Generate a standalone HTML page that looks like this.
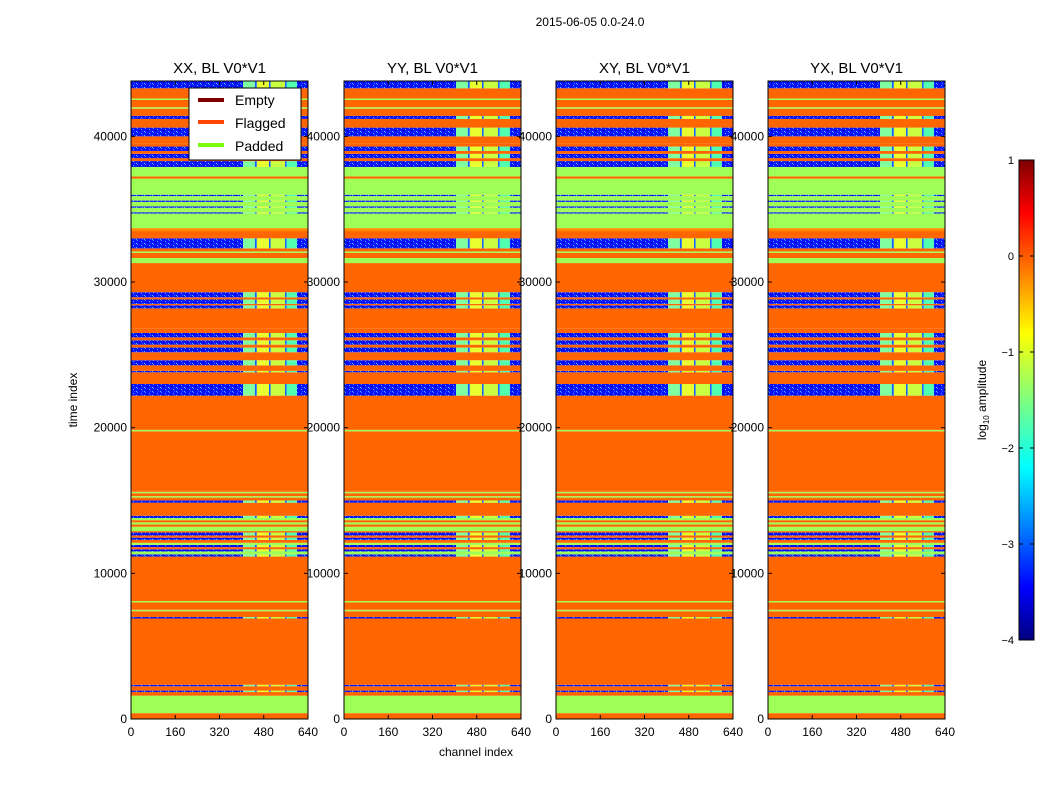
<!DOCTYPE html>
<html><head><meta charset="utf-8">
<style>
body{margin:0;background:#fff;font-family:"Liberation Sans",sans-serif;}
svg text{font-family:"Liberation Sans",sans-serif;}
</style></head>
<body>
<svg id="chart" width="1050" height="800" xmlns="http://www.w3.org/2000/svg">
<defs>
<pattern id="noise" width="8" height="4" patternUnits="userSpaceOnUse">
<rect width="8" height="4" fill="#0a10ff"/>
<rect x="1" y="0" width="1" height="1" fill="#20a0ff"/>
<rect x="5" y="1" width="1" height="1" fill="#30c0ff"/>
<rect x="3" y="2" width="1" height="1" fill="#0000b0"/>
<rect x="6" y="3" width="1" height="1" fill="#1070ff"/>
<rect x="0" y="3" width="1" height="1" fill="#40d0f0"/>
</pattern>
<linearGradient id="jet" x1="0" y1="1" x2="0" y2="0">
<stop offset="0" stop-color="#00007f"/><stop offset="0.11" stop-color="#0000ff"/>
<stop offset="0.36" stop-color="#00ffff"/><stop offset="0.5" stop-color="#7fff7f"/>
<stop offset="0.64" stop-color="#ffff00"/><stop offset="0.89" stop-color="#ff0000"/>
<stop offset="1" stop-color="#7f0000"/>
</linearGradient>
</defs>
<text x="590" y="26" font-size="12" text-anchor="middle">2015-06-05 0.0-24.0</text>
<g id="panels"></g>
<text x="476" y="756" font-size="12" text-anchor="middle">channel index</text>
<text x="77" y="400" font-size="12" text-anchor="middle" transform="rotate(-90 77 400)">time index</text>
<g>
<rect x="189" y="88" width="112" height="72" fill="#fff" stroke="#000" stroke-width="1"/>
<line x1="198" y1="100" x2="224" y2="100" stroke="#800000" stroke-width="4"/>
<text x="235" y="105" font-size="14">Empty</text>
<line x1="198" y1="122" x2="224" y2="122" stroke="#ff4500" stroke-width="4"/>
<text x="235" y="128" font-size="14">Flagged</text>
<line x1="198" y1="145" x2="224" y2="145" stroke="#7cfc00" stroke-width="4"/>
<text x="235" y="151" font-size="14">Padded</text>
</g>
<g>
<rect x="1019" y="160" width="15" height="480" fill="url(#jet)" stroke="#000" stroke-width="1"/>
<g id="cbticks"></g>
<text x="986" y="400" font-size="12" text-anchor="middle" transform="rotate(-90 986 400)">log<tspan font-size="8" dy="3">10</tspan><tspan dy="-3"> amplitude</tspan></text>
</g>
</svg>
<script>
const NS="http://www.w3.org/2000/svg";
const panelTitles=["XX, BL V0*V1","YY, BL V0*V1","XY, BL V0*V1","YX, BL V0*V1"];
const panelLefts=[131,344,556,768];
const xTicks=[0,160,320,480,640];
const yTicks=[0,10000,20000,30000,40000];
const cbTicks=[1,0,-1,-2,-3,-4];
// bands: start, end, type (F flagged, P padded, D data, H hot)
const bandStart=[0,400,1600,1850,1950,2250,2350,6900,7000,7400,7500,8000,8100,11150,11300,11500,11650,11800,11950,12100,12300,12450,12600,12800,12900,13200,13350,13500,13650,13800,13950,14850,15000,15200,15300,15500,15600,19750,19850,22200,23000,23800,23900,24280,24630,25180,25500,25700,26000,26200,26500,26820,28190,28400,28500,28800,28950,29300,31300,31650,32000,32100,32310,33000,33500,33700,34700,34790,35100,35190,35500,35590,35900,35990,37100,37250,37900,38300,38500,38800,39000,39300,39500,40000,40600,41200,41400,41900,42000,42500,42600,43300,43800];
const bandType=["F","P","F","D","F","D","F","D","F","P","F","P","F","D","P","D","F","D","P","F","D","F","D","F","P","F","P","F","P","D","F","D","F","P","F","P","F","P","F","D","F","D","F","D","F","D","F","D","F","D","F","F","D","F","D","F","D","F","P","F","P","F","D","F","H","P","D","P","D","P","D","P","D","P","F","P","D","F","D","F","D","F","F","D","F","D","F","P","F","P","F","D"];
const xMin=0,xMax=640,tMin=0,tMax=43800;
const pw=177,plotTop=81,plotBot=719;
function sx(left,c){return left+(c-xMin)/(xMax-xMin)*pw;}
function sy(t){return plotBot-(t-tMin)/(tMax-tMin)*(plotBot-plotTop);}
const colStart=[405,448,455,499,505,557,563,600];
const colColor=["#80ffa0","#1060ff","#e8ff30","#1060ff","#c8ff40","#1060ff","#50ffb0","url(#noise)"];
const colors={F:"#ff6600",P:"#a0ff56",H:"#ff8c00"};
const g=document.getElementById("panels");
function mk(tag,attrs,parent){const e=document.createElementNS(NS,tag);for(const k in attrs)e.setAttribute(k,attrs[k]);parent.appendChild(e);return e;}
panelLefts.forEach((L,pi)=>{
  const pg=mk("g",{},g);
  
  
  for(let i=0;i<bandStart.length-1;i++){
    const t0=bandStart[i],t1=bandStart[i+1],ty=bandType[i];
    const y=sy(t1),h=Math.max(sy(t0)-sy(t1),0.8);
    if(ty==="D"){
      const r=mk("rect",{x:sx(L,0),y:y,width:sx(L,405)-sx(L,0),height:h,fill:"url(#noise)"},pg);
      
      
      for(let c=0;c<colStart.length;c++){
        const c1=c+1<colStart.length?colStart[c+1]:640;
        const cr=mk("rect",{x:sx(L,colStart[c]),y:y,width:sx(L,c1)-sx(L,colStart[c]),height:h,fill:colColor[c]},pg);
        
        
      }
    } else {
      const r=mk("rect",{x:L,y:y,width:pw,height:h,fill:colors[ty]},pg);
      
      
    }
  }
  const fr=mk("rect",{x:L,y:plotTop,width:pw,height:plotBot-plotTop,fill:"none",stroke:"#000","stroke-width":1},pg);
  
  
  const tt=mk("text",{x:L+pw/2,y:73,"font-size":15,"text-anchor":"middle"},pg);tt.textContent=panelTitles[pi];
  
  
  xTicks.forEach(v=>{
    const x=sx(L,v);
    mk("line",{x1:x,y1:plotBot,x2:x,y2:plotBot-4,stroke:"#000"},pg);
    mk("line",{x1:x,y1:plotTop,x2:x,y2:plotTop+4,stroke:"#000"},pg);
    const tx=mk("text",{x:x,y:736,"font-size":12,"text-anchor":"middle"},pg);tx.textContent=v;
    
    
  });
  yTicks.forEach(v=>{
    const y=sy(v);
    mk("line",{x1:L,y1:y,x2:L+4,y2:y,stroke:"#000"},pg);
    mk("line",{x1:L+pw,y1:y,x2:L+pw-4,y2:y,stroke:"#000"},pg);
    const tx=mk("text",{x:L-4,y:y+4,"font-size":12,"text-anchor":"end"},pg);tx.textContent=v;
    
    
  });
});
const cb=document.getElementById("cbticks");
cbTicks.forEach(v=>{
  const y=160+(1-v)/5*480;
  mk("line",{x1:1019,y1:y,x2:1023,y2:y,stroke:"#000"},cb);
  mk("line",{x1:1034,y1:y,x2:1030,y2:y,stroke:"#000"},cb);
  const t=mk("text",{x:1014,y:y+4,"font-size":11,"text-anchor":"end"},cb);t.textContent=v<0?"\u2212"+(-v):v;
  
  
});
</script>
</body></html>
